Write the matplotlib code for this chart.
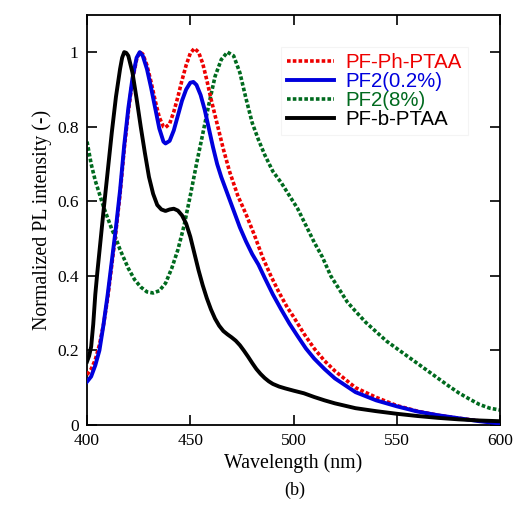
import matplotlib
matplotlib.use("Agg")
import matplotlib.pyplot as plt

# PF-b-PTAA (black)
x_black = [400, 401, 402, 403, 404, 405, 406, 408, 410, 412, 414, 416, 417, 418, 419, 420, 422, 424, 426, 428, 430,
           432, 434, 436, 438, 440, 442, 444, 446, 448, 450, 452, 454, 456, 458, 460, 462, 464, 466, 468, 470,
           472, 474, 476, 478, 480, 482, 484, 486, 488, 490, 493, 496, 500, 505, 510, 515, 520, 530, 540, 550,
           560, 570, 580, 590, 600]
y_black = [0.17, 0.185, 0.21, 0.27, 0.35, 0.41, 0.465, 0.575, 0.68, 0.785, 0.88, 0.955, 0.985, 1.0, 0.998, 0.99, 0.945, 0.875, 0.80, 0.73, 0.665,
           0.62, 0.59, 0.578, 0.574, 0.578, 0.58, 0.575, 0.562, 0.54, 0.505, 0.46, 0.415, 0.375, 0.34, 0.31, 0.285, 0.266, 0.252, 0.243, 0.235,
           0.226, 0.214, 0.199, 0.183, 0.166, 0.15, 0.137, 0.126, 0.117, 0.11, 0.103, 0.098, 0.092, 0.085, 0.075, 0.066, 0.058, 0.045, 0.037, 0.030,
           0.024, 0.019, 0.015, 0.012, 0.010]

# PF2(0.2%) (blue)
x_blue = [400, 402, 404, 406, 408, 410, 412, 414, 416, 418, 420, 422, 424, 425.5, 427, 429, 431, 433, 435, 437, 438,
          440, 442, 444, 446, 448, 450, 451.5, 453, 455, 457, 459, 461, 463, 465, 467, 470, 474, 477, 480, 483, 486,
          490, 494, 498, 502, 506, 510, 515, 520, 530, 540, 550, 560, 570, 580, 590, 600]
y_blue = [0.116, 0.13, 0.16, 0.2, 0.27, 0.35, 0.44, 0.53, 0.63, 0.75, 0.85, 0.93, 0.985, 1.0, 0.99, 0.955, 0.905, 0.85, 0.795, 0.76, 0.755,
          0.762, 0.79, 0.83, 0.87, 0.9, 0.918, 0.92, 0.912, 0.885, 0.845, 0.795, 0.745, 0.70, 0.665, 0.635, 0.59, 0.53, 0.492, 0.458, 0.43, 0.395,
          0.35, 0.31, 0.272, 0.238, 0.205, 0.178, 0.15, 0.125, 0.088, 0.066, 0.05, 0.036, 0.026, 0.018, 0.01, 0.004]

# PF-Ph-PTAA (red)
x_red = [400, 402, 404, 406, 408, 410, 412, 414, 416, 418, 420, 422, 424, 425.5, 427, 429, 431, 433, 435, 437, 438,
         440, 442, 444, 446, 448, 450, 452, 454, 456, 458, 460, 462, 464, 466, 469, 473, 477, 481, 485, 489, 493, 497,
         500, 505, 510, 515, 520, 530, 540, 550, 560, 570, 580, 590, 600]
y_red = [0.135, 0.15, 0.175, 0.215, 0.27, 0.34, 0.43, 0.52, 0.62, 0.74, 0.84, 0.925, 0.98, 1.0, 0.995, 0.965, 0.92, 0.87, 0.825, 0.8, 0.798,
         0.808, 0.84, 0.88, 0.925, 0.965, 0.997, 1.01, 1.0, 0.97, 0.925, 0.875, 0.83, 0.785, 0.74, 0.68, 0.615, 0.565, 0.51, 0.45, 0.4, 0.355, 0.315,
         0.29, 0.245, 0.205, 0.172, 0.145, 0.1, 0.074, 0.052, 0.037, 0.026, 0.018, 0.011, 0.006]

# PF2(8%) (green)
x_green = [400, 402, 404, 406, 408, 410, 412, 414, 416, 418, 420, 423, 426, 429, 432, 435, 438, 441, 444, 447,
           450, 453, 456, 459, 462, 465, 468, 471, 474, 477, 480, 483, 486, 490, 494, 498, 502, 506, 510, 514,
           518, 522, 526, 530, 535, 540, 545, 550, 555, 560, 565, 570, 575, 580, 585, 590, 595, 600]
y_green = [0.76, 0.7, 0.655, 0.62, 0.585, 0.555, 0.525, 0.5, 0.47, 0.445, 0.42, 0.39, 0.37, 0.357, 0.354, 0.36, 0.38, 0.42, 0.47, 0.535,
           0.615, 0.7, 0.78, 0.86, 0.935, 0.98, 1.0, 0.99, 0.945, 0.875, 0.81, 0.765, 0.725, 0.68, 0.65, 0.615, 0.58, 0.535, 0.49, 0.45,
           0.4, 0.365, 0.33, 0.305, 0.275, 0.25, 0.225, 0.205, 0.185, 0.165, 0.145, 0.125, 0.105, 0.086, 0.07, 0.055, 0.045, 0.04]

x_ticks = [400, 450, 500, 550, 600]
y_ticks = [0, 0.2, 0.4, 0.6, 0.8, 1.0]
y_tick_labels = ["0", "0.2", "0.4", "0.6", "0.8", "1"]

serif = ["Liberation Serif", "DejaVu Serif"]
sans = ["Liberation Sans", "DejaVu Sans"]

fig = plt.figure(figsize=(5.15, 5.12), dpi=100)
ax = fig.add_axes([0.169, 0.170, 0.802, 0.801])

dot = (0, (1, 0.6))
ax.plot(x_red, y_red, color="#ee0000", lw=2.6, linestyle=dot, dash_capstyle="butt", label="PF-Ph-PTAA", zorder=3)
ax.plot(x_blue, y_blue, color="#0000dd", lw=2.8, label="PF2(0.2%)", zorder=4)
ax.plot(x_green, y_green, color="#006a1e", lw=2.6, linestyle=dot, dash_capstyle="butt", label="PF2(8%)", zorder=2)
ax.plot(x_black, y_black, color="black", lw=2.8, label="PF-b-PTAA", zorder=5)

ax.set_xlim(400, 600)
ax.set_ylim(0, 1.1)
ax.set_xticks(x_ticks)
ax.set_yticks(y_ticks)
ax.set_yticklabels(y_tick_labels)
ax.tick_params(direction="in", top=True, right=True, length=7, width=1.2, labelsize=12.5, pad=6)
for lab in ax.get_xticklabels() + ax.get_yticklabels():
    lab.set_fontfamily(serif)
for sp in ax.spines.values():
    sp.set_linewidth(1.3)

ax.set_xlabel("Wavelength (nm)", fontsize=14.3, family=serif, labelpad=3)
ax.set_ylabel("Normalized PL intensity (-)", fontsize=14.3, family=serif, labelpad=4)

leg = ax.legend(loc="upper left", bbox_to_anchor=(0.47, 0.922), borderaxespad=0, frameon=True, fancybox=False,
                prop={"family": sans, "size": 14.7}, handlelength=2.3, handletextpad=0.55,
                labelspacing=0.0, borderpad=0.3)
leg.get_frame().set_edgecolor("#f2f2f2")
leg.get_frame().set_linewidth(0.8)
for txt, line in zip(leg.get_texts(), leg.get_lines()):
    txt.set_color(line.get_color())

fig.text(0.573, 0.043, "(b)", ha="center", va="center", fontsize=13, family=serif)

fig.savefig("out.png", dpi=100)
